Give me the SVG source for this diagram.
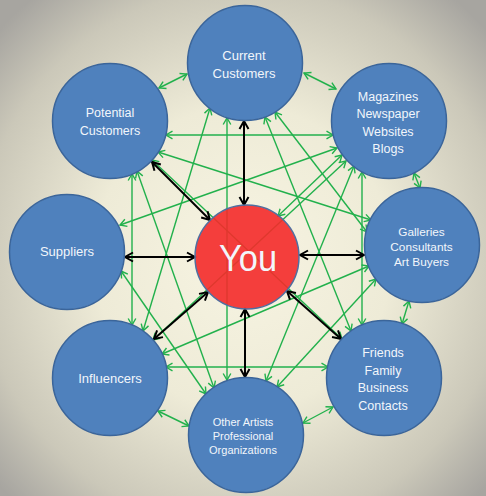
<svg xmlns="http://www.w3.org/2000/svg" width="486" height="496" viewBox="0 0 486 496">
<defs>
<radialGradient id="bg" cx="50%" cy="52%" r="68%">
<stop offset="0" stop-color="#f7f4e2"/>
<stop offset="0.45" stop-color="#eeebd7"/>
<stop offset="0.8" stop-color="#cbc8b9"/>
<stop offset="1" stop-color="#a7a5a0"/>
</radialGradient>
<marker id="ga" viewBox="-8 -5 10 10" refX="0" refY="0" markerWidth="10" markerHeight="10" markerUnits="userSpaceOnUse" orient="auto-start-reverse" overflow="visible">
<path d="M-6.5,-3.8 L0,0 L-6.5,3.8" fill="none" stroke="#22b14c" stroke-width="1.4"/>
</marker>
<marker id="ba" viewBox="-10 -6 12 12" refX="0" refY="0" markerWidth="12" markerHeight="12" markerUnits="userSpaceOnUse" orient="auto-start-reverse" overflow="visible">
<path d="M-8,-4.5 L0,0 L-8,4.5" fill="none" stroke="#000" stroke-width="2"/>
</marker>
</defs>
<style>
.g{stroke:#22b14c;stroke-width:1.4;fill:none;marker-start:url(#ga);marker-end:url(#ga)}
.b{stroke:#000;stroke-width:2;fill:none;marker-start:url(#ba);marker-end:url(#ba)}
.n{fill:#4f81bd;stroke:#3b659a;stroke-width:1.5}
.t{fill:#f2f6fb;font-family:"Liberation Sans",Arial,sans-serif;text-anchor:middle}
</style>
<rect width="486" height="496" fill="url(#bg)"/>
<g id="connectors">
<line class="g" x1="159" y1="88" x2="187" y2="74"/>
<line class="g" x1="304" y1="73" x2="336" y2="89"/>
<line class="g" x1="414" y1="173" x2="420" y2="188"/>
<line class="g" x1="409" y1="301" x2="402" y2="324"/>
<line class="g" x1="333" y1="407" x2="303" y2="423"/>
<line class="g" x1="189" y1="426" x2="158" y2="411"/>
<line class="g" x1="166" y1="135" x2="333" y2="135"/>
<line class="g" x1="132" y1="174" x2="132" y2="325"/>
<line class="g" x1="362" y1="172" x2="362" y2="325"/>
<line class="g" x1="166" y1="367" x2="328" y2="367"/>
<line class="g" x1="227" y1="118" x2="227" y2="380"/>
<line class="g" x1="158" y1="152" x2="371" y2="220"/>
<line class="g" x1="152" y1="160" x2="342" y2="339"/>
<line class="g" x1="137" y1="171" x2="214" y2="388"/>
<line class="g" x1="210" y1="108" x2="143" y2="331"/>
<line class="g" x1="265" y1="117" x2="351" y2="331"/>
<line class="g" x1="275" y1="112" x2="367" y2="232"/>
<line class="g" x1="337" y1="148" x2="120" y2="225"/>
<line class="g" x1="342" y1="155" x2="278" y2="216"/>
<line class="g" x1="346" y1="161" x2="153" y2="340"/>
<line class="g" x1="354" y1="166" x2="266" y2="381"/>
<line class="g" x1="369" y1="266" x2="162" y2="354"/>
<line class="g" x1="376" y1="279" x2="277" y2="387"/>
<line class="g" x1="121" y1="271" x2="206" y2="394"/>
<line class="b" x1="244" y1="205" x2="244" y2="121"/>
<line class="b" x1="210" y1="220" x2="152" y2="162"/>
<line class="b" x1="195" y1="257" x2="125" y2="257"/>
<line class="b" x1="208" y1="292" x2="154" y2="339"/>
<line class="b" x1="245" y1="309" x2="245" y2="377"/>
<line class="b" x1="287" y1="291" x2="341" y2="339"/>
<line class="b" x1="300" y1="255" x2="364" y2="255"/>
</g>
<g id="current">
<circle class="n" cx="245" cy="63" r="57.5"/>
<text class="t" x="244" y="59.5" font-size="13">Current</text>
<text class="t" x="244" y="77.5" font-size="13">Customers</text>
</g>
<g id="magazines">
<circle class="n" cx="389" cy="121" r="57.5"/>
<text class="t" x="388" y="100.5" font-size="12.5">Magazines</text>
<text class="t" x="388" y="118" font-size="12.5">Newspaper</text>
<text class="t" x="388" y="135.5" font-size="12.5">Websites</text>
<text class="t" x="388" y="152.5" font-size="12.5">Blogs</text>
</g>
<g id="galleries">
<circle class="n" cx="422" cy="245" r="57.5"/>
<text class="t" x="421.5" y="236" font-size="11.8">Galleries</text>
<text class="t" x="421.5" y="251" font-size="11.8">Consultants</text>
<text class="t" x="421.5" y="266" font-size="11.8">Art Buyers</text>
</g>
<g id="friends">
<circle class="n" cx="384" cy="378" r="57.5"/>
<text class="t" x="383" y="357" font-size="12.5">Friends</text>
<text class="t" x="383" y="374.5" font-size="12.5">Family</text>
<text class="t" x="383" y="392" font-size="12.5">Business</text>
<text class="t" x="383" y="409.5" font-size="12.5">Contacts</text>
</g>
<g id="other-artists">
<circle class="n" cx="246" cy="435" r="57.5"/>
<text class="t" x="243" y="425.5" font-size="11">Other Artists</text>
<text class="t" x="243" y="439.5" font-size="11">Professional</text>
<text class="t" x="243" y="453.5" font-size="11">Organizations</text>
</g>
<g id="influencers">
<circle class="n" cx="110" cy="378" r="57.5"/>
<text class="t" x="110" y="383" font-size="13">Influencers</text>
</g>
<g id="suppliers">
<circle class="n" cx="67" cy="252" r="57.5"/>
<text class="t" x="67" y="256" font-size="13">Suppliers</text>
</g>
<g id="potential">
<circle class="n" cx="110" cy="121" r="57.5"/>
<text class="t" x="110" y="117" font-size="12.5">Potential</text>
<text class="t" x="110" y="135" font-size="12.5">Customers</text>
</g>
<g id="you">
<circle cx="247" cy="257" r="52" fill="#f42a2a" fill-opacity="0.9" stroke="#4f6fa0" stroke-width="1.5"/>
<text class="t" x="248" y="271" font-size="37" textLength="58" lengthAdjust="spacingAndGlyphs">You</text>
</g>
</svg>
